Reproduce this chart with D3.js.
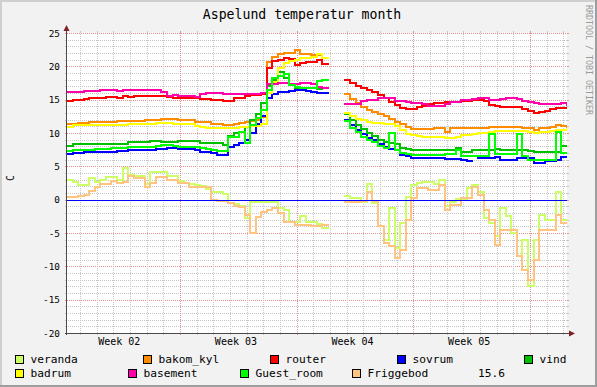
<!DOCTYPE html>
<html><head><meta charset="utf-8">
<script src="https://cdn.jsdelivr.net/npm/d3@7"></script>
<style>
body{margin:0;background:#fff}
svg{display:block}
text{font-family:"DejaVu Sans Mono","Liberation Mono",monospace;fill:#000}
</style>
</head><body>
<svg id="c" width="597" height="387"></svg>
<script>
// ---------- DATA (one sample every 8 hours, null = no data) ----------
const STEP_DAYS = 1/3;
const seriesNames = ["veranda","bakom_kyl","router","sovrum","vind","badrum","basement","Guest_room","Friggebod"];

const veranda = [2.95,2.6,2.2,2.2,3.2,2.6,3.0,3.4,3.4,2.9,
 4.7,3.7,3.6,3.6,2.3,4.2,4.2,4.2,3.6,3.6,
 2.8,2.5,2.3,2.2,2.1,1.6,1.2,1.1,0.8,-0.5,
 -0.6,-0.9,-2.8,-0.4,-0.3,-0.3,-0.3,-0.3,-1.2,-1.6,
 -3.4,-3.4,-2.5,-3.3,-3.4,-3.6,-4.3,null,null,null,
 0.55,0.2,0.2,-0.3,2.4,-0.5,-4.0,-6.0,-1.3,-7.3,
 -3.5,0.4,2.2,2.5,2.7,2.7,2.35,2.95,-1.0,-0.3,
 0.05,0.05,1.7,2.2,1.2,-2.8,-3.5,-5.5,-1.3,-2.5,
 -5.0,-8.5,-6.0,-13.0,-6.0,-2.3,-3.0,-3.0,1.2,-3.0,-3.0];

const bakom_kyl = [11.35,11.4,11.5,11.55,11.6,11.7,11.7,11.7,11.7,11.75,
 11.8,11.85,11.85,11.85,11.9,11.9,12.0,12.1,12.1,12.1,
 12.0,11.95,11.9,11.7,11.7,11.6,11.4,11.35,11.2,11.15,
 11.3,11.45,11.6,11.85,11.9,12.4,20.6,21.4,21.9,22.0,
 22.0,22.4,21.9,21.8,21.7,21.7,21.3,null,null,null,
 15.8,15.1,14.5,13.9,13.5,13.2,12.9,12.6,12.1,11.7,
 11.3,10.9,10.6,10.55,10.55,10.6,10.7,10.7,10.2,10.8,
 10.8,10.7,10.7,10.7,10.8,10.8,10.9,10.9,10.9,10.9,
 10.9,10.9,10.7,10.7,10.4,10.8,10.8,10.9,11.2,11.1,10.95];

const router = [14.8,14.9,15.0,15.1,15.2,15.3,15.3,15.4,15.4,15.3,
 15.5,15.4,15.5,15.5,15.5,15.6,15.6,15.6,15.4,15.3,
 15.3,15.3,15.3,15.2,15.1,15.1,15.0,15.0,14.8,14.8,
 15.2,15.3,15.6,15.7,15.7,15.8,19.7,20.8,21.0,21.2,
 21.1,20.2,20.5,20.6,20.6,20.9,20.4,null,null,null,
 17.9,17.5,17.1,16.7,16.4,16.1,15.7,15.2,14.6,14.2,
 13.7,13.6,13.6,13.9,14.1,14.4,14.5,14.5,14.6,14.7,
 14.7,14.8,14.8,14.9,14.9,14.8,14.2,14.0,13.9,13.9,
 13.9,13.9,13.6,13.3,13.0,13.1,13.3,13.6,13.8,13.8,13.8];

const sovrum = [6.85,7.0,7.0,7.1,7.1,7.15,7.2,7.2,7.2,7.25,
 7.3,7.4,7.45,7.45,7.5,7.5,7.55,7.6,7.7,7.7,
 7.65,7.65,7.6,7.4,7.2,7.1,6.95,6.75,6.65,7.9,
 8.2,8.5,9.0,10.0,11.3,12.5,15.2,15.8,16.2,16.2,
 16.3,16.4,16.4,16.3,16.2,16.0,16.0,null,null,null,
 12.0,11.2,10.5,9.9,9.3,8.9,8.4,7.9,7.6,7.5,
 6.7,6.6,6.2,6.2,6.2,6.2,6.2,6.2,6.05,6.05,
 6.05,6.0,5.85,null,6.2,6.2,6.2,6.45,5.95,5.95,
 5.9,6.2,6.2,6.2,5.55,5.55,5.85,5.85,6.0,6.4,6.4];

const vind = [8.1,8.3,8.35,8.35,8.4,8.4,8.4,8.4,8.4,8.4,
 8.4,8.6,8.7,8.7,8.7,8.85,8.85,8.7,8.7,8.7,
 8.85,8.85,8.85,8.8,8.55,8.5,8.45,8.45,8.2,9.6,
 10.0,10.2,10.9,12.0,12.8,14.5,17.0,18.0,19.2,18.3,
 17.2,16.8,16.7,16.7,16.8,16.6,16.8,null,null,null,
 12.8,11.9,11.2,10.6,10.0,9.6,9.0,8.7,8.5,8.3,
 7.7,7.6,7.45,7.45,7.45,7.45,7.45,7.45,7.5,7.5,
 7.7,7.2,7.2,7.45,7.45,7.45,7.45,7.6,7.45,7.45,
 7.45,7.45,7.45,7.3,7.2,7.2,7.2,7.2,7.2,8.0,8.0];

const badrum = [10.95,11.2,11.2,11.2,11.2,11.2,11.2,11.2,11.2,11.25,
 11.25,11.35,11.35,11.35,11.4,11.4,11.45,11.45,11.45,11.35,
 11.35,11.3,11.3,11.0,10.85,10.8,10.8,10.75,10.7,10.7,
 10.8,10.95,10.95,11.0,11.1,11.4,16.0,17.7,19.7,20.5,
 20.8,20.9,21.2,21.2,21.4,21.8,21.3,null,null,null,
 13.0,12.5,12.1,11.9,11.7,11.5,11.45,11.4,11.3,11.1,
 10.5,9.9,9.7,9.5,9.45,9.4,9.4,9.4,9.3,9.3,
 9.4,9.7,9.75,9.8,9.95,10.0,10.2,10.3,10.3,10.3,
 10.3,10.3,10.3,10.1,10.05,10.1,10.2,10.3,10.4,10.5,10.55];

const basement = [16.2,16.2,16.2,16.3,16.3,16.3,16.4,16.4,16.4,16.3,
 16.4,16.4,16.4,16.4,16.4,16.4,16.4,16.2,15.6,15.7,
 15.6,15.6,15.5,15.4,15.9,16.0,16.0,16.0,15.9,15.8,
 15.9,15.9,15.8,15.9,15.9,16.0,17.4,17.4,17.5,17.5,
 17.4,17.4,17.5,17.5,17.4,16.9,16.7,null,null,null,
 14.3,14.3,14.4,14.8,14.9,15.0,15.3,15.3,15.2,14.8,
 14.8,14.7,14.5,14.5,14.4,14.1,14.0,14.0,14.3,14.7,
 14.7,15.0,15.0,15.1,15.2,15.2,14.9,14.9,15.1,15.2,
 15.2,15.1,14.8,14.6,14.5,14.3,14.3,14.3,14.4,14.5,14.2];

const Guest_room = [7.35,7.4,7.45,7.45,7.45,7.6,7.6,7.65,7.7,7.7,
 7.7,7.9,7.95,7.95,7.95,7.95,8.0,8.2,8.2,8.0,
 7.95,7.95,7.95,7.95,7.7,7.6,7.4,7.35,7.3,9.4,
 9.4,10.2,8.5,11.2,12.3,13.4,16.5,18.2,18.6,18.9,
 17.2,16.9,16.7,16.7,16.8,17.8,17.9,null,null,null,
 11.8,10.7,10.1,9.4,9.0,8.6,8.0,7.7,10.0,7.45,
 6.95,6.8,6.7,6.7,6.7,6.7,6.7,6.7,6.85,6.85,
 7.45,6.55,6.55,6.55,6.55,6.55,9.8,6.85,6.85,6.85,
 6.85,9.8,6.5,6.0,6.0,6.0,6.0,6.0,10.2,6.95,6.95];

const Friggebod = [0.45,0.45,0.5,0.7,1.35,1.95,2.35,2.4,2.85,2.45,
 2.7,3.55,3.2,3.2,1.85,2.5,3.45,3.45,3.0,2.95,
 2.45,2.45,1.95,1.95,1.95,1.95,0.0,-0.15,-0.15,-0.55,
 -1.0,-1.1,-2.3,-5.0,-2.6,-1.8,-1.6,-1.3,-2.0,-3.3,
 -3.3,-3.8,-3.8,-3.8,-4.0,-3.9,-3.8,null,null,null,
 -0.3,-0.35,-0.35,-0.2,1.2,-0.2,-4.0,-6.5,-7.0,-8.8,
 -7.5,-3.0,0.2,1.7,1.7,1.45,1.45,2.2,-1.5,-0.8,
 -0.8,0.2,0.2,1.95,0.7,-1.55,-3.0,-6.8,-4.5,-4.5,
 -4.6,-8.5,-10.5,-12.0,-9.0,-4.5,-4.5,-4.5,-2.3,-3.5,-3.5];

const hruleValue = 0;
const gprintText = "15.6";
const weekLabels = ["Week 02","Week 03","Week 04","Week 05"];
const weekLabelDays = [3.14,10.14,17.14,24.14];
const weekStartDays = [6.78,13.78,20.78,27.78];
const yTickValues = [-20,-15,-10,-5,0,5,10,15,20,25];

// ---------- STYLE / LAYOUT ----------
const colors = {veranda:"#CCFF66",bakom_kyl:"#FF8C00",router:"#FF0000",sovrum:"#0000FF",
  vind:"#00C000",badrum:"#FFFF00",basement:"#FF00AA",Guest_room:"#00FF00",Friggebod:"#FFC580"};
const seriesData = {veranda,bakom_kyl,router,sovrum,vind,badrum,basement,Guest_room,Friggebod};

const W=597,H=387,X0=67,X1=567,Y0=333,Y1=33;
const x = d3.scaleLinear().domain([0,30.01]).range([X0,X1]);
const y = d3.scaleLinear().domain([-20,25]).range([Y0,Y1]);
const svg = d3.select("#c");

svg.append("rect").attr("width",W).attr("height",H).attr("fill","#F2F2F2");
svg.append("rect").attr("x",0).attr("y",0).attr("width",W).attr("height",2).attr("fill","#CFCFCF");
svg.append("rect").attr("x",0).attr("y",0).attr("width",2).attr("height",H).attr("fill","#CFCFCF");
svg.append("rect").attr("x",0).attr("y",H-2).attr("width",W).attr("height",2).attr("fill","#9E9E9E");
svg.append("rect").attr("x",W-2).attr("y",0).attr("width",2).attr("height",H).attr("fill","#9E9E9E");
svg.append("rect").attr("x",X0).attr("y",Y1).attr("width",X1-X0).attr("height",Y0-Y1).attr("fill","#FFFFFF");

const grid = svg.append("g").attr("shape-rendering","crispEdges");
const minorC="#C6C6C6", majorC="#E29090";
// horizontal grid
d3.range(-20,26,1).forEach(v=>{
  const yy = Math.round(y(v))+0.5;
  const major = v%5===0;
  const c = major?majorC:minorC;
  grid.append("line").attr("x1",X0-(major?2:1)).attr("x2",X1+(major?2:1)).attr("y1",yy).attr("y2",yy)
    .attr("stroke",c).attr("stroke-dasharray","1,1");
  grid.append("line").attr("x1",X0-2).attr("x2",X0).attr("y1",yy).attr("y2",yy).attr("stroke",c);
  grid.append("line").attr("x1",X1).attr("x2",X1+2).attr("y1",yy).attr("y2",yy).attr("stroke",c);
});
// vertical grid: days (minor), weeks (major)
d3.range(0.78,30.01,1).forEach(t=>{
  const xx = Math.round(x(t))+0.5;
  const major = weekStartDays.some(w=>Math.abs(w-t)<0.01);
  const c = major?majorC:minorC;
  grid.append("line").attr("x1",xx).attr("x2",xx).attr("y1",Y1-(major?2:1)).attr("y2",Y0+(major?2:1))
    .attr("stroke",c).attr("stroke-dasharray","1,1");
  grid.append("line").attr("x1",xx).attr("x2",xx).attr("y1",Y0).attr("y2",Y0+2).attr("stroke",c);
  grid.append("line").attr("x1",xx).attr("x2",xx).attr("y1",Y1-2).attr("y2",Y1).attr("stroke",c);
});

// clip
svg.append("clipPath").attr("id","cp").append("rect").attr("x",X0).attr("y",Y1-3).attr("width",X1-X0).attr("height",Y0-Y1+6);
const plot = svg.append("g").attr("clip-path","url(#cp)");

function stepPoints(vals){
  const pts=[];
  vals.forEach((v,k)=>{
    if(v==null){pts.push(null);return;}
    pts.push([k*STEP_DAYS,v]); pts.push([(k+1)*STEP_DAYS,v]);
  });
  return pts;
}
const line = d3.line().defined(d=>d!=null).x(d=>Math.round(x(d[0]))).y(d=>Math.round(y(d[1])));
seriesNames.forEach(n=>{
  plot.append("path").attr("d",line(stepPoints(seriesData[n])))
    .attr("fill","none").attr("stroke",colors[n]).attr("stroke-width",2)
    .attr("shape-rendering","crispEdges").attr("stroke-linejoin","miter").attr("stroke-linecap","square");
});
// HRULE at 0
plot.append("line").attr("x1",X0).attr("x2",X1).attr("y1",Math.round(y(hruleValue))+0.5).attr("y2",Math.round(y(hruleValue))+0.5)
  .attr("stroke","#0000FF").attr("stroke-width",1).attr("shape-rendering","crispEdges");

// axes
const axC="#4A4A4A";
svg.append("line").attr("x1",X0-0.5).attr("x2",X0-0.5).attr("y1",Y0+2).attr("y2",29).attr("stroke",axC).attr("shape-rendering","crispEdges");
svg.append("line").attr("x1",X0-2).attr("x2",570).attr("y1",Y0+0.5).attr("y2",Y0+0.5).attr("stroke",axC).attr("shape-rendering","crispEdges");
svg.append("path").attr("d",`M${X0-3.5},31 L${X0+2.5},31 L${X0-0.5},25 Z`).attr("fill","#7F1F1F");
svg.append("path").attr("d",`M569,${Y0-2.5} L569,${Y0+3.5} L575,${Y0+0.5} Z`).attr("fill","#7F1F1F");

// y tick labels
yTickValues.forEach(v=>{
  svg.append("text").attr("x",60).attr("y",y(v)+3.5).attr("text-anchor","end")
    .attr("font-size","9.4px").text(String(v));
});
// x labels
weekLabels.forEach((l,i)=>{
  svg.append("text").attr("x",x(weekLabelDays[i])).attr("y",344.5).attr("text-anchor","middle")
    .attr("font-size","10px").text(l);
});
// title
svg.append("text").attr("x",302).attr("y",18.5).attr("text-anchor","middle").attr("font-size","13.2px").text("Aspelund temperatur month");
// unit
svg.append("text").attr("transform","translate(14,178) rotate(-90)").attr("text-anchor","middle").attr("font-size","9.7px").text("C");
// watermark
svg.append("text").attr("transform","translate(585.5,5) rotate(90)").attr("text-anchor","start").attr("font-size","8.3px")
  .style("fill","#9A9A9A").text("RRDTOOL / TOBI OETIKER");

// legend
const legendLayout = [
  {n:"veranda",x:15,r:0},{n:"bakom_kyl",x:143,r:0},{n:"router",x:270,r:0},{n:"sovrum",x:397,r:0},{n:"vind",x:524,r:0},
  {n:"badrum",x:15,r:1},{n:"basement",x:128,r:1},{n:"Guest_room",x:240,r:1},{n:"Friggebod",x:352,r:1}
];
const rowBoxY=[355,369], rowTextY=[363,377];
legendLayout.forEach(it=>{
  svg.append("rect").attr("x",it.x+0.5).attr("y",rowBoxY[it.r]+0.5).attr("width",8).attr("height",8)
    .attr("fill",colors[it.n]).attr("stroke","#000").attr("stroke-width",1).attr("shape-rendering","crispEdges");
  svg.append("text").attr("x",it.x+15.5).attr("y",rowTextY[it.r]).attr("font-size","11.2px").text(it.n);
});
svg.append("text").attr("x",478).attr("y",rowTextY[1]).attr("font-size","11.2px").text(gprintText);
</script>
</body></html>
